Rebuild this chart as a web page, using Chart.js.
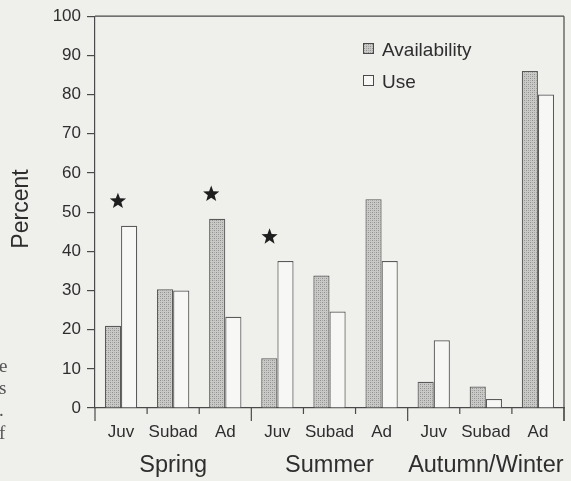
<!DOCTYPE html>
<html>
<head>
<meta charset="utf-8">
<script src="https://cdn.jsdelivr.net/npm/chart.js@4.4.1/dist/chart.umd.min.js"></script>
<style>
  html, body { margin: 0; padding: 0; background: #efefec; }
  #wrap { position: relative; width: 571px; height: 481px; overflow: hidden; }
  canvas { position: absolute; left: 0; top: 0; }
  .frag { position: absolute; left: -1px; font: 19px "Liberation Serif", "DejaVu Serif", serif; color: #555; line-height: 20px; }
</style>
</head>
<body>
<div id="wrap">
  <canvas id="chart" width="571" height="481"></canvas>
  <div class="frag" style="top:356px">e</div>
  <div class="frag" style="top:378px">s</div>
  <div class="frag" style="top:400px">.</div>
  <div class="frag" style="top:423px">f</div>
</div>
<script>
// valores
const ages = ['Juv', 'Subad', 'Ad', 'Juv', 'Subad', 'Ad', 'Juv', 'Subad', 'Ad'];
const seasons = ['Spring', 'Summer', 'Autumn/Winter'];
const availability = [21, 30.3, 48.3, 12.7, 33.8, 53.3, 6.7, 5.5, 86];
const use = [46.5, 30, 23.3, 37.5, 24.6, 37.5, 17.3, 2.3, 80];
// estrelas (diferença significativa)
const starX = [-0.06, 1.73, 2.85];
const starY = [53, 54.8, 43.9];
const yTicks = [0, 10, 20, 30, 40, 50, 60, 70, 80, 90, 100];

const textColor = '#2e2e2e';
const lineColor = '#4a4a4a';
const fontFamily = '"Liberation Sans", Arial, sans-serif';

// padrão pontilhado das barras de disponibilidade
function makeStipple() {
    const c = document.createElement('canvas');
    c.width = 4; c.height = 4;
    const g = c.getContext('2d');
    g.fillStyle = '#c9c9c7';
    g.fillRect(0, 0, 4, 4);
    g.fillStyle = '#8f8f8d';
    g.fillRect(0, 0, 1, 1);
    g.fillRect(2, 2, 1, 1);
    g.fillStyle = '#a9a9a7';
    g.fillRect(2, 0, 1, 1);
    g.fillRect(0, 2, 1, 1);
    return g.createPattern(c, 'repeat');
}

function drawStar(g, cx, cy, r) {
    g.beginPath();
    for (let i = 0; i < 10; i++) {
        const rad = i % 2 === 0 ? r : r * 0.42;
        const a = -Math.PI / 2 + i * Math.PI / 5;
        const px = cx + rad * Math.cos(a), py = cy + rad * Math.sin(a);
        if (i === 0) g.moveTo(px, py); else g.lineTo(px, py);
    }
    g.closePath();
    g.fillStyle = '#1e1e1e';
    g.fill();
}

const stipple = makeStipple();

const extras = {
    id: 'extras',
    afterDraw(chart) {
        const ctx = chart.ctx;
        const area = chart.chartArea;
        const xs = chart.scales.x;
        const ys = chart.scales.y;
        const n = ages.length;
        const half = (xs.getPixelForValue(1) - xs.getPixelForValue(0)) / 2;
        ctx.save();
        ctx.strokeStyle = lineColor;
        ctx.lineWidth = 1.2;

        // moldura superior e direita
        ctx.beginPath();
        ctx.moveTo(area.left, area.top);
        ctx.lineTo(area.right, area.top);
        ctx.moveTo(area.right, area.top);
        ctx.lineTo(area.right, area.bottom + 13);
        ctx.stroke();

        // marcas entre categorias
        for (let i = 0; i <= n; i++) {
            const x = i < n ? xs.getPixelForValue(i) - half : xs.getPixelForValue(n - 1) + half;
            const len = i % 3 === 0 ? 13 : 6;
            ctx.beginPath();
            ctx.moveTo(x, area.bottom);
            ctx.lineTo(x, area.bottom + len);
            ctx.stroke();
        }

        // estrelas
        starX.forEach((v, i) => {
            const x = xs.getPixelForValue(0) + v * half * 2;
            drawStar(ctx, x, ys.getPixelForValue(starY[i]) + 0.8, 8.5);
        });

        // nomes das estações
        ctx.fillStyle = textColor;
        ctx.font = '23.5px ' + fontFamily;
        ctx.textAlign = 'center';
        ctx.textBaseline = 'alphabetic';
        seasons.forEach((s, k) => {
            const x = (xs.getPixelForValue(k * 3) + xs.getPixelForValue(k * 3 + 2)) / 2;
            ctx.fillText(s, x, area.bottom + 64);
        });

        // legenda
        ctx.font = '19px ' + fontFamily;
        ctx.textAlign = 'left';
        const lx = 363, ly = [43, 75];
        chart.data.datasets.forEach((ds, k) => {
            ctx.fillStyle = ds.backgroundColor;
            ctx.fillRect(lx, ly[k], 11, 11);
            ctx.strokeStyle = lineColor;
            ctx.lineWidth = 1;
            ctx.strokeRect(lx + 0.5, ly[k] + 0.5, 10, 10);
            ctx.fillStyle = textColor;
            ctx.fillText(ds.label, lx + 19, ly[k] + 13);
        });

        // título do eixo y
        ctx.font = '23px ' + fontFamily;
        ctx.translate(22, 209);
        ctx.rotate(-Math.PI / 2);
        ctx.textAlign = 'center';
        ctx.textBaseline = 'middle';
        ctx.fillText('Percent', 0, 0);
        ctx.restore();
    }
};

const ctx = document.getElementById('chart').getContext('2d');
const chart = new Chart(ctx, {
    type: 'bar',
    data: {
        labels: ages,
        datasets: [
            {
                label: 'Availability',
                data: availability,
                backgroundColor: stipple,
                borderColor: '#5a5a5a',
                borderWidth: 1.2,
                categoryPercentage: 0.62,
                barPercentage: 1
            },
            {
                label: 'Use',
                data: use,
                backgroundColor: '#f7f7f5',
                borderColor: '#5a5a5a',
                borderWidth: 1.2,
                categoryPercentage: 0.62,
                barPercentage: 1
            }
        ]
    },
    options: {
        responsive: false,
        animation: false,
        layout: { padding: { left: 0, right: 7, top: 16, bottom: 0 } },
        plugins: {
            legend: { display: false },
            tooltip: { enabled: false }
        },
        scales: {
            x: {
                type: 'category',
                offset: true,
                grid: { display: false, drawTicks: false },
                border: { display: true, color: lineColor, width: 1.2 },
                ticks: {
                    color: textColor,
                    font: { family: fontFamily, size: 17 },
                    padding: 14,
                    maxRotation: 0,
                    autoSkip: false
                },
                afterFit(scale) { scale.height = 73; }
            },
            y: {
                min: 0,
                max: 100,
                afterBuildTicks(scale) { scale.ticks = yTicks.map(v => ({ value: v })); },
                grid: { drawOnChartArea: false, drawTicks: true, tickLength: 8, color: lineColor, lineWidth: 1.2 },
                border: { display: true, color: lineColor, width: 1.2 },
                ticks: {
                    color: textColor,
                    font: { family: fontFamily, size: 17 },
                    padding: 6
                },
                afterFit(scale) { scale.width = 95; }
            }
        }
    },
    plugins: [extras]
});
</script>
</body>
</html>
